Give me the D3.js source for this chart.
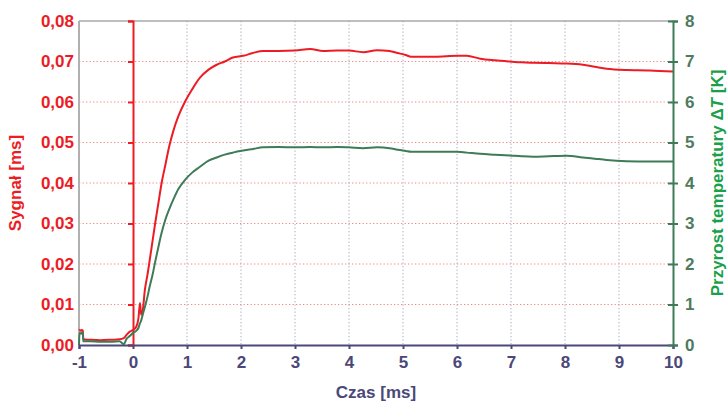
<!DOCTYPE html>
<html>
<head>
<meta charset="utf-8">
<script src="https://cdn.jsdelivr.net/npm/d3@7"></script>
<style>
  body { margin: 0; background: #fff; }
  svg text { font-family: "Liberation Sans", Arial, sans-serif; font-weight: bold; }
</style>
</head>
<body>
<div id="chart"></div>
<script>
// time [ms]
const time = [-1, -0.99, -0.96, -0.95, -0.93, -0.92, -0.8, -0.6, -0.4, -0.25, -0.17, -0.12, -0.06, 0,
  0.06, 0.1, 0.13, 0.15, 0.18, 0.22, 0.27, 0.31, 0.36, 0.41, 0.47, 0.53, 0.6, 0.67, 0.75, 0.84,
  0.96, 1.09, 1.24, 1.4, 1.55, 1.7, 1.85, 2.04, 2.22, 2.41, 2.7, 3.0, 3.28, 3.52, 3.78, 4.0,
  4.26, 4.52, 4.75, 4.9, 5.05, 5.15, 5.35, 5.56, 5.8, 6.0, 6.18, 6.43, 6.7, 6.98, 7.2, 7.41,
  7.7, 8.03, 8.33, 8.55, 8.77, 9.14, 9.57, 10];
// Sygnał [ms]
const signal = [0.0036, 0.0037, 0.0035, 0.0037, 0.0036, 0.0014, 0.0013, 0.0012, 0.0013, 0.0014, 0.0017, 0.0025, 0.0033, 0.0037,
  0.0045, 0.0065, 0.0104, 0.0075, 0.0085, 0.0136, 0.0175, 0.021, 0.0255, 0.030, 0.035, 0.040, 0.0445, 0.049, 0.053, 0.0565,
  0.060, 0.063, 0.066, 0.068, 0.0692, 0.070, 0.071, 0.0714, 0.0721, 0.0726, 0.0726, 0.0727, 0.0731, 0.0726, 0.0727, 0.0727,
  0.0723, 0.0728, 0.0726, 0.0721, 0.0716, 0.0712, 0.0712, 0.0712, 0.0713, 0.0714, 0.0714, 0.0707, 0.0703, 0.070, 0.0698, 0.0697,
  0.0696, 0.0695, 0.0692, 0.0687, 0.0682, 0.0679, 0.0678, 0.0675];
// Przyrost temperatury ΔT [K]
const deltaT = [0.0, 0.3, 0.28, 0.3, 0.3, 0.09, 0.09, 0.08, 0.08, 0.09, 0.02, 0.15, 0.22, 0.3,
  0.35, 0.42, 0.54, 0.6, 0.75, 0.94, 1.2, 1.45, 1.72, 2.05, 2.42, 2.77, 3.1, 3.35, 3.6, 3.85,
  4.07, 4.25, 4.4, 4.55, 4.63, 4.7, 4.75, 4.8, 4.84, 4.88, 4.89, 4.88, 4.89, 4.88, 4.89, 4.88,
  4.86, 4.88, 4.86, 4.82, 4.79, 4.77, 4.77, 4.77, 4.77, 4.77, 4.75, 4.72, 4.7, 4.68, 4.66, 4.65,
  4.66, 4.67, 4.63, 4.6, 4.57, 4.54, 4.53, 4.53];

const xTicks = d3.range(-1, 11);
const yTicks = d3.range(0, 0.0801, 0.01);
const tTicks = d3.range(0, 9);

const W = 727, H = 402;
const margin = { top: 21, right: 54, bottom: 57, left: 79 };
const w = W - margin.left - margin.right;
const h = H - margin.top - margin.bottom;

const red = '#ed1c24', green = '#3e7b57', navy = '#4b4878';

const svg = d3.select('#chart').append('svg')
  .attr('width', W).attr('height', H);
const g = svg.append('g').attr('transform', `translate(${margin.left},${margin.top})`);

const x = d3.scaleLinear().domain([-1, 10]).range([0, w]);
const y = d3.scaleLinear().domain([0, 0.08]).range([h, 0]);
const yT = d3.scaleLinear().domain([0, 8]).range([h, 0]);

// grid
g.append('g').selectAll('line').data(yTicks.filter(v => v > 0.001 && v < 0.079)).join('line')
  .attr('x1', 0).attr('x2', w).attr('y1', d => y(d)).attr('y2', d => y(d))
  .attr('stroke', '#f08a8a').attr('stroke-width', 1).attr('stroke-dasharray', '1.3,2.2');
g.append('g').selectAll('line').data(xTicks.filter(v => v >= 1 && v <= 9)).join('line')
  .attr('x1', d => x(d)).attr('x2', d => x(d)).attr('y1', 0).attr('y2', h)
  .attr('stroke', '#a9a9bd').attr('stroke-width', 1).attr('stroke-dasharray', '1.3,2.2');

// frame
g.append('line').attr('x1', 0).attr('x2', w).attr('y1', 0).attr('y2', 0)
  .attr('stroke', '#a8a8a8').attr('stroke-width', 1.5);
g.append('line').attr('x1', 0).attr('x2', 0).attr('y1', 0).attr('y2', h)
  .attr('stroke', '#b0b0b0').attr('stroke-width', 2);

// left tick labels
const yAxis = g.append('g').call(d3.axisLeft(y).tickValues(yTicks).tickSize(0).tickPadding(5)
  .tickFormat(d => d3.format('.2f')(d).replace('.', ',')));
yAxis.select('.domain').remove();
yAxis.selectAll('text').attr('fill', red).style('font-size', '17px');

// red axis at t = 0
const zAxis = g.append('g').attr('transform', `translate(${x(0)},0)`)
  .call(d3.axisLeft(y).tickValues(yTicks).tickSize(5).tickFormat(''));
zAxis.select('.domain').attr('stroke', red).attr('stroke-width', 2);
zAxis.selectAll('.tick line').attr('stroke', red).attr('stroke-width', 2);

// lines
const pts = time.map((t, i) => ({ t, s: signal[i], k: deltaT[i] }));
g.append('path').datum(pts)
  .attr('fill', 'none').attr('stroke', red).attr('stroke-width', 2).attr('stroke-linejoin', 'round')
  .attr('d', d3.line().curve(d3.curveMonotoneX).x(d => x(d.t)).y(d => y(d.s)));
g.append('path').datum(pts)
  .attr('fill', 'none').attr('stroke', green).attr('stroke-width', 2).attr('stroke-linejoin', 'round')
  .attr('d', d3.line().curve(d3.curveMonotoneX).x(d => x(d.t)).y(d => yT(d.k)));

// bottom axis
const xAxis = g.append('g').attr('transform', `translate(0,${h})`)
  .call(d3.axisBottom(x).tickValues(xTicks).tickSize(4).tickPadding(7).tickFormat(d => String(d)));
xAxis.select('.domain').attr('stroke', navy).attr('stroke-width', 2);
xAxis.selectAll('.tick line').attr('stroke', navy).attr('stroke-width', 2);
xAxis.selectAll('text').attr('fill', navy).style('font-size', '17px');

// right axis
const rAxis = g.append('g').attr('transform', `translate(${w},0)`)
  .call(d3.axisRight(yT).tickValues(tTicks).tickSize(5).tickPadding(7).tickFormat(d => String(d)));
rAxis.select('.domain').attr('stroke', green).attr('stroke-width', 2);
rAxis.selectAll('.tick line').attr('stroke', green).attr('stroke-width', 2).attr('x1', -5);
rAxis.selectAll('text').attr('fill', '#4e7b5e').style('font-size', '17px');

// titles
svg.append('text').attr('x', margin.left + w / 2).attr('y', 398)
  .attr('text-anchor', 'middle').attr('fill', navy).style('font-size', '17px')
  .text('Czas [ms]');
svg.append('text').attr('transform', `translate(21,${margin.top + h / 2}) rotate(-90)`)
  .attr('text-anchor', 'middle').attr('fill', red).style('font-size', '17px')
  .text('Sygnał [ms]');
const rt = svg.append('text').attr('transform', `translate(723,${margin.top + h / 2}) rotate(-90)`)
  .attr('text-anchor', 'middle').attr('fill', '#1aa04a').style('font-size', '17px');
rt.append('tspan').text('Przyrost temperatury Δ');
rt.append('tspan').style('font-style', 'italic').text('T');
rt.append('tspan').text(' [K]');
</script>
</body>
</html>
